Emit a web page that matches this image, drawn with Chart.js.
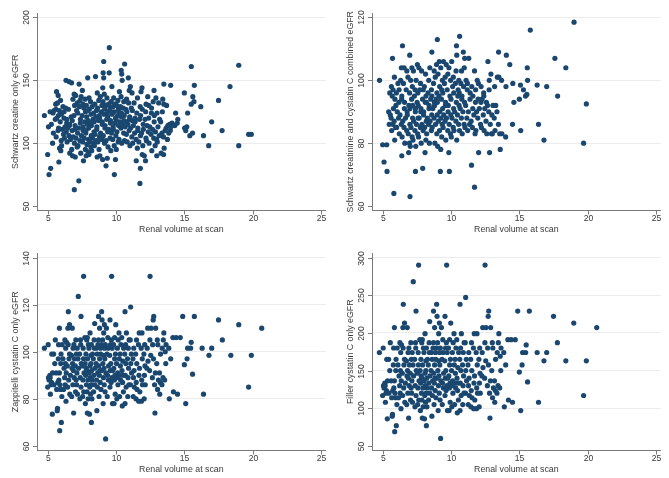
<!DOCTYPE html>
<html>
<head>
<meta charset="utf-8">
<script src="https://cdn.jsdelivr.net/npm/chart.js@4/dist/chart.umd.min.js"></script>
<style>
html,body{margin:0;padding:0;background:#ffffff;overflow:hidden;}
#wrap{position:relative;width:669px;height:478px;background:#ffffff;}
.panel{position:absolute;}
</style>
</head>
<body>
<div id="wrap">
  <div class="panel" style="left:0;top:0;width:335px;height:240px"><canvas id="c1" width="335" height="240"></canvas></div>
  <div class="panel" style="left:335px;top:0;width:334px;height:240px"><canvas id="c2" width="334" height="240"></canvas></div>
  <div class="panel" style="left:0;top:240px;width:335px;height:238px"><canvas id="c3" width="335" height="238"></canvas></div>
  <div class="panel" style="left:335px;top:240px;width:334px;height:238px"><canvas id="c4" width="334" height="238"></canvas></div>
</div>
<script>
// ---------- axis text ----------
const xAxisTitle = "Renal volume at scan";
const volumeTicks = [5, 10, 15, 20, 25];
const creatinineTitle = "Schwartz creatine only eGFR";
const combinedTitle = "Schwartz creatinine and cystatin C combined eGFR";
const zappitelliTitle = "Zappitelli cystatin C only eGFR";
const fillerTitle = "Filler cystatin C only eGFR";
const creatinineTicks = [50, 100, 150, 200];
const combinedTicks = [60, 80, 100, 120];
const zappitelliTicks = [60, 80, 100, 120, 140];
const fillerTicks = [50, 100, 150, 200, 250, 300];

// ---------- data: [renal volume, eGFR] ----------
const creatinineOnly = [
[4.76,122],[5.0,91],[5.06,113],[5.1,75],[5.18,125],[5.22,80],[5.36,100],[5.27,115],[5.39,124],
[5.42,108],[5.56,119],[5.47,126],[5.59,131],
[5.62,105],[5.76,110],[5.67,120],[5.79,122],[5.6,127],[5.72,132],[5.77,138],[5.65,141],
[5.82,85],[5.96,94],[5.87,96],[5.99,102],[5.8,112],[5.92,117],[5.97,124],[5.85,126],[5.94,134],
[6.02,98],[6.16,107],[6.07,111],[6.19,120],[6.0,123],[6.12,129],
[6.22,104],[6.36,109],[6.27,113],[6.39,116],[6.2,125],[6.32,128],[6.34,150],
[6.42,101],[6.56,106],[6.47,112],[6.59,114],[6.4,119],[6.52,127],[6.56,149],
[6.62,92],[6.76,95],[6.67,103],[6.79,110],[6.6,115],[6.72,121],[6.75,148],
[6.95,63],[6.82,90],[6.96,100],[6.87,105],[6.99,111],[6.8,118],[6.92,122],[6.97,130],[6.85,135],[6.94,139],
[7.02,89],[7.16,97],[7.07,104],[7.19,108],[7.0,114],[7.12,126],[7.17,132],[7.05,138],
[7.28,70],[7.22,98],[7.36,102],[7.27,112],[7.39,116],[7.2,124],[7.32,129],[7.37,134],[7.3,147],
[7.42,92],[7.56,101],[7.47,106],[7.59,110],[7.4,119],[7.52,122],[7.57,131],[7.45,137],[7.54,142],
[7.62,86],[7.76,95],[7.67,104],[7.79,108],[7.6,113],[7.72,117],[7.77,125],[7.65,128],[7.74,135],
[7.82,90],[7.96,93],[7.87,99],[7.99,103],[7.8,110],[7.92,115],[7.97,118],[7.85,121],[7.94,126],[7.83,130],[7.93,152],
[8.02,91],[8.16,97],[8.07,101],[8.19,106],[8.0,112],[8.12,116],[8.17,123],[8.05,127],[8.14,133],[8.03,136],
[8.22,94],[8.36,100],[8.27,104],[8.39,109],[8.2,114],[8.32,119],[8.37,124],[8.25,129],
[8.42,98],[8.56,102],[8.47,107],[8.59,111],[8.4,117],[8.52,121],[8.57,126],[8.45,131],[8.5,153],
[8.62,89],[8.76,95],[8.67,101],[8.79,105],[8.6,113],[8.72,118],[8.77,122],[8.65,128],[8.74,134],[8.63,140],
[8.82,90],[8.96,103],[8.87,108],[8.99,115],[8.8,120],[8.92,125],[8.97,130],[8.85,137],
[9.02,87],[9.16,100],[9.07,106],[9.19,112],[9.0,117],[9.12,123],[9.17,127],[9.05,133],[9.14,139],[9.03,144],[9.1,152],[9.06,156],[9.1,165],
[9.27,82],[9.36,88],[9.27,102],[9.39,109],[9.2,114],[9.32,119],[9.37,124],[9.25,130],[9.34,136],
[9.42,97],[9.56,104],[9.47,111],[9.59,116],[9.4,121],[9.52,126],[9.57,128],[9.45,131],[9.5,156],[9.51,176],
[9.62,94],[9.76,103],[9.67,108],[9.79,113],[9.6,118],[9.72,123],[9.77,129],[9.65,133],[9.7,145],
[9.88,75],[9.96,87],[9.87,98],[9.99,106],[9.8,111],[9.92,116],[9.97,120],[9.85,125],[9.94,131],[9.83,136],
[10.02,95],[10.16,101],[10.07,109],[10.19,114],[10.0,119],[10.12,122],[10.17,127],[10.05,130],[10.14,134],
[10.22,103],[10.36,112],[10.27,117],[10.39,121],[10.2,125],[10.32,129],[10.37,137],[10.25,141],
[10.42,100],[10.56,108],[10.47,115],[10.59,118],[10.4,124],[10.52,128],[10.57,133],[10.45,150],[10.42,155],[10.38,158],
[10.62,102],[10.76,107],[10.67,113],[10.79,117],[10.6,122],[10.72,127],[10.77,135],[10.63,163],
[10.82,101],[10.96,110],[10.87,115],[10.99,119],[10.8,125],[10.92,132],[10.97,142],[10.9,152],
[11.02,98],[11.16,105],[11.07,112],[11.19,118],[11.0,121],[11.12,128],[11.17,140],[11.05,145],
[11.22,100],[11.36,108],[11.27,114],[11.39,120],[11.2,126],[11.32,132],
[11.48,86],[11.56,96],[11.47,103],[11.59,110],[11.4,117],[11.52,124],[11.57,136],
[11.75,68],[11.78,80],[11.67,101],[11.79,106],[11.6,112],[11.72,119],[11.77,129],
[11.92,91],[11.96,98],[11.87,108],[11.99,115],[11.8,122],[11.92,127],[11.83,141],[11.9,144],
[12.16,86],[12.07,90],[12.19,104],[12.0,111],[12.12,119],[12.17,125],
[12.22,102],[12.36,109],[12.27,114],[12.39,120],[12.2,131],[12.32,137],
[12.42,100],[12.56,107],[12.47,113],[12.59,124],[12.4,130],
[12.62,94],[12.76,104],[12.67,111],[12.79,117],[12.6,128],[12.72,133],[12.78,142],
[12.98,90],[12.86,98],[12.97,103],[12.88,109],[12.8,122],[12.92,136],
[13.02,101],[13.16,106],[13.07,113],[13.19,119],[13.0,124],[13.12,132],
[13.3,92],[13.36,108],[13.27,117],[13.39,125],
[13.48,91],[13.52,96],[13.47,105],[13.59,110],[13.5,131],[13.42,135],[13.5,147],
[13.76,103],[13.67,112],[13.79,114],[13.7,130],
[13.86,108],[13.97,110],[13.92,115],[14.02,113],[14.1,116],[14.0,146],
[14.3,114],[14.36,124],[14.48,116],[14.52,119],
[15.0,140],[15.02,112],[15.1,110],[15.18,113],[15.24,124],[15.4,106],[15.5,131],[15.51,161],[15.6,108],[15.62,137],[15.7,133],[15.73,146],
[16.2,129],[16.4,106],[16.78,98],[17.0,117],[17.5,134],[17.76,110],[18.34,145],[18.98,98],[18.98,162],[19.7,107],[19.9,107]
];

const combinedEGFR = [
[4.77,100],[5.0,79.5],[5.1,74],[5.32,71],[5.3,79.5],[5.82,64],[7.0,63],[7.4,71],[6.4,76],
[5.48,86],[5.56,89],[5.44,90],[5.52,96],
[5.66,84],[5.74,86],[5.62,88],[5.79,91],[5.7,95],[5.76,97],[5.64,98],[5.72,107],
[5.88,81],[5.95,85],[5.84,87],[5.97,92],[5.9,94],[5.86,101],
[6.02,85],[6.16,88],[6.07,90],[6.19,93],[6.0,96],[6.12,99],
[6.22,83],[6.36,86],[6.27,89],[6.39,94],[6.2,97],[6.32,100],[6.37,104],
[6.42,82],[6.56,85],[6.47,87],[6.59,91],[6.4,95],[6.52,99],[6.57,104],[6.45,111],
[6.62,80],[6.76,84],[6.67,88],[6.79,90],[6.6,93],[6.72,97],[6.77,103],
[6.9,77],[6.96,80],[6.87,83],[6.99,86],[6.8,89],[6.92,92],[6.97,96],[6.85,101],[6.98,108],
[7.02,79],[7.16,82],[7.07,85],[7.19,88],[7.0,91],[7.12,94],[7.17,98],[7.05,100],[7.14,104],
[7.22,81],[7.36,84],[7.27,87],[7.39,90],[7.2,92],[7.32,95],[7.37,97],[7.25,103],
[7.42,79],[7.56,83],[7.47,86],[7.59,88],[7.4,91],[7.52,93],[7.57,96],[7.45,100],[7.54,105],
[7.62,82],[7.76,85],[7.67,88],[7.79,90],[7.6,92],[7.72,97],[7.77,99],[7.65,104],
[7.93,72],[7.82,80],[7.96,84],[7.87,86],[7.99,89],[7.8,91],[7.92,94],[7.97,97],[7.85,103],
[8.1,77],[8.16,81],[8.07,85],[8.19,87],[8.0,90],[8.12,93],[8.17,95],[8.05,98],[8.14,102],
[8.22,83],[8.36,86],[8.27,88],[8.39,91],[8.2,93],[8.32,96],[8.37,100],
[8.42,80],[8.56,84],[8.47,87],[8.59,89],[8.4,92],[8.52,94],[8.57,97],[8.45,104],[8.6,109],
[8.62,85],[8.76,88],[8.67,91],[8.79,93],[8.6,95],[8.72,99],[8.77,103],
[8.82,80],[8.96,83],[8.87,86],[8.99,89],[8.8,92],[8.92,94],[8.97,96],[8.85,101],[8.94,105],[9.0,113],
[9.02,79],[9.16,84],[9.07,87],[9.19,90],[9.0,93],[9.12,95],[9.17,98],[9.05,102],[9.14,106],
[9.22,71],[9.25,78],
[9.32,82],[9.36,86],[9.27,88],[9.39,91],[9.3,94],[9.32,97],[9.37,100],[9.25,104],
[9.42,85],[9.56,87],[9.47,89],[9.59,92],[9.4,96],[9.52,99],[9.57,101],[9.45,106],
[9.62,81],[9.76,84],[9.67,88],[9.79,90],[9.6,93],[9.72,97],[9.77,102],[9.65,105],
[9.88,71],[9.84,77],[9.96,83],[9.87,86],[9.99,89],[9.8,92],[9.92,95],[9.97,100],[9.85,104],
[10.02,82],[10.16,85],[10.07,88],[10.19,91],[10.0,94],[10.12,98],[10.17,101],[10.05,106],
[10.22,84],[10.36,87],[10.27,90],[10.39,93],[10.2,96],[10.32,99],[10.37,103],[10.4,111],[10.42,108],
[10.42,81],[10.56,86],[10.47,89],[10.59,92],[10.5,95],[10.52,97],[10.57,100],[10.63,114],
[10.62,84],[10.76,88],[10.67,91],[10.79,94],[10.6,96],[10.72,99],[10.77,103],
[10.82,83],[10.96,86],[10.87,90],[10.99,93],[10.8,95],[10.92,98],[10.97,104],[10.9,109],
[11.02,85],[11.16,88],[11.07,92],[11.19,97],[11.1,100],[11.0,107],
[11.22,84],[11.36,86],[11.27,90],[11.39,94],[11.2,99],[11.3,107],
[11.5,73],[11.56,85],[11.47,87],[11.59,91],[11.4,96],[11.52,98],
[11.72,66],[11.76,83],[11.67,89],[11.79,93],[11.6,95],[11.72,103],
[11.82,84],[11.96,88],[11.87,90],[11.99,94],[11.8,97],[11.92,100],
[12.02,77],[12.16,86],[12.07,91],[12.19,93],[12.0,99],
[12.22,85],[12.36,89],[12.27,94],[12.39,96],[12.2,98],
[12.42,84],[12.56,87],[12.47,91],[12.59,93],[12.4,95],
[12.62,83],[12.76,90],[12.67,92],[12.79,97],[12.7,106],
[12.82,77],[12.96,83],[12.87,86],[12.99,89],[12.8,100],[12.92,102],
[13.02,83],[13.16,88],[13.07,92],[13.19,98],
[13.22,84],[13.36,90],[13.27,92],[13.39,101],
[13.6,78],[13.56,83],[13.47,86],[13.5,101],[13.48,109],
[13.72,83],[13.7,100],
[14.0,82],[14.02,98],[14.05,108],[14.3,105],[14.5,86],[14.52,99],[14.6,93],
[15.0,94],[15.08,98.5],[15.1,84],[15.3,97],[15.45,95],[15.55,95.5],[15.6,100],[15.58,104],[15.8,116],
[16.3,98.5],[16.4,86],[16.8,81],[17.0,98],[17.6,107],[17.8,95],[18.4,104],[19.0,118.5],[19.7,80],[19.9,92.5]
];

const zappitelliCysC = [
[4.76,101.5],[5.0,85],[5.06,89],[5.04,103],[5.1,88],[5.16,90],[5.2,82],[5.24,86],[5.18,89],
[5.34,73.5],[5.28,87],[5.36,91],[5.3,99],[5.46,86],[5.52,95],[5.44,99],[5.56,105],
[5.7,75],[5.72,76],[5.66,84],[5.74,87],[5.62,91],[5.78,97],[5.82,88],[5.86,91],[5.8,103],
[5.88,66.5],[5.94,84],[5.9,86],[5.96,95],[5.86,110],[6.0,70],[6.04,81],[5.98,99],[6.06,103],
[6.16,84],[6.24,89],[6.2,93],[6.12,97],[6.26,105],
[6.34,79],[6.28,86],[6.36,91],[6.3,95],[6.32,101.5],[6.38,104],
[6.46,85],[6.54,88],[6.44,94],[6.56,97],[6.5,103],[6.48,110],[6.51,117],
[6.62,82],[6.66,90],[6.6,99],[6.6,111.5],
[6.76,81],[6.84,86],[6.78,93],[6.82,95],[6.74,98.5],[6.8,110],
[6.9,74],[6.94,89],[6.88,92],[6.96,97],[6.86,101.5],[6.92,103],
[7.04,83],[7.12,86],[7.08,88],[7.14,91],[7.02,94],[7.1,99],[7.06,105],
[7.18,82],[7.26,93],[7.22,97],[7.16,101.5],[7.24,123.5],
[7.36,80],[7.44,85],[7.38,89],[7.46,95],[7.34,99],[7.42,103],[7.4,105],[7.44,115],
[7.56,81],[7.64,83],[7.58,88],[7.66,91],[7.54,94],[7.62,97],[7.6,101.5],[7.63,132],
[7.76,78],[7.84,86],[7.78,90],[7.82,93],[7.74,95],[7.8,99],[7.86,105],[7.72,106],
[7.9,74],[7.96,80],[7.88,83],[7.94,88],[7.86,92],[7.92,97],[7.98,103],[7.9,106],
[8.06,73.5],[8.14,82],[8.08,85],[8.12,89],[8.04,91],[8.1,94],[8.16,98.5],[8.02,101.5],[8.1,108],
[8.2,70],[8.24,80],[8.18,86],[8.26,88],[8.22,92],[8.16,95],[8.28,99],[8.2,103],
[8.36,83],[8.44,86],[8.38,90],[8.46,93],[8.34,97],[8.42,101.5],[8.4,105],[8.44,112],
[8.6,75],[8.64,85],[8.58,88],[8.66,91],[8.54,95],[8.62,99],[8.56,101.5],[8.68,103],[8.72,115],
[8.76,81],[8.84,87],[8.78,90],[8.82,92],[8.74,94],[8.8,97],[8.86,101.5],[8.72,105],[8.8,110],
[8.9,84],[8.96,92],[8.88,99],[8.94,103],[8.98,113.5],[8.95,117],
[9.06,78],[9.14,86],[9.08,89],[9.12,93],[9.04,95],[9.1,98.5],[9.16,101.5],[9.02,105],[9.1,108],[9.15,111.5],
[9.24,63],[9.2,83],[9.26,91],[9.18,97],[9.22,103],
[9.36,81],[9.44,88],[9.38,90],[9.46,94],[9.34,99],[9.42,101.5],[9.4,106],[9.3,110],
[9.56,85],[9.64,87],[9.58,92],[9.62,95],[9.54,98.5],[9.6,103],[9.66,105],[9.56,113.5],
[9.74,78],[9.7,89],[9.76,92],[9.72,101.5],[9.68,132],
[9.86,78],[9.94,82],[9.88,88],[9.92,90],[9.84,93],[9.9,97],[9.96,99],[9.82,103],[9.9,106],[9.98,111.5],
[10.06,80],[10.14,86],[10.08,89],[10.12,91],[10.04,95],[10.1,101.5],[10.16,105],
[10.26,81],[10.34,88],[10.28,90],[10.32,94],[10.24,97],[10.3,99],[10.36,103],[10.22,108],
[10.46,77],[10.54,83],[10.48,87],[10.52,90],[10.44,92],[10.5,96],[10.56,101.5],[10.42,106],
[10.66,78],[10.74,85],[10.68,90],[10.72,95],[10.64,99],[10.7,103],[10.76,108],[10.66,117],
[10.86,81],[10.94,86],[10.88,89],[10.92,93],[10.84,97],[10.9,101.5],[10.96,105],
[11.06,86],[11.14,91],[11.08,95],[11.12,99],[11.04,105],[11.07,119],
[11.26,81],[11.34,85],[11.28,89],[11.32,92],[11.24,97],[11.3,101.5],
[11.46,80],[11.54,84],[11.48,87],[11.52,95],[11.44,99],[11.5,105],
[11.66,79],[11.74,83],[11.68,90],[11.72,93],[11.64,103],[11.7,108],
[11.86,79],[11.94,86],[11.88,88],[11.92,97],[11.84,101.5],[11.9,108],
[12.06,80],[12.14,86],[12.08,90],[12.12,94],[12.04,99],[12.1,103],
[12.26,93],[12.34,96],[12.28,101.5],[12.32,110],
[12.46,92],[12.54,98.5],[12.48,105],[12.56,110],[12.49,132],
[12.66,89],[12.74,97],[12.68,103],[12.72,113.5],[12.76,115],
[12.85,74],[12.82,86],[12.88,91],[12.9,110],
[13.04,84],[13.1,88],[12.98,95],[13.06,103],[13.02,105],
[13.2,82],[13.24,87],[13.18,91],[13.26,99],
[13.36,86],[13.44,89],[13.38,101.5],[13.46,105],[13.5,108],
[13.56,88],[13.64,95],[13.6,100],[13.66,103],
[13.9,80],[14.0,97],[13.86,101.5],[14.2,83],[14.16,106],[14.5,82],[14.4,106],[14.7,106],
[15.0,94.5],[14.88,115],[15.1,78],[15.2,97],[15.24,101.5],[15.46,101.5],[15.5,104],[15.6,90.5],[15.73,115],
[16.3,101.5],[16.4,82],[16.8,98.5],[17.0,101.5],[17.5,113.5],[17.78,105],[18.4,98.5],[18.98,111.5],[19.7,85],[19.9,98.5],[20.66,110]
];

const fillerCysC = [
[4.76,174],[5.0,117],[5.06,130],[5.04,180],[5.1,127],[5.16,133.5],[5.2,108],[5.24,120],[5.18,130],
[5.34,86],[5.28,123.5],[5.36,136.5],[5.3,165],[5.46,120],[5.52,150],[5.44,165],[5.56,187],
[5.7,89.5],[5.72,92],[5.66,114],[5.74,123.5],[5.62,136.5],[5.78,157.5],[5.82,127],[5.86,136.5],[5.8,180],
[5.88,69],[5.94,114],[5.9,120],[5.96,150],[5.86,207],[6.0,77],[6.04,105],[5.98,165],[6.06,180],
[6.16,114],[6.24,130],[6.2,143],[6.12,157.5],[6.26,187],
[6.34,99.5],[6.28,120],[6.36,136.5],[6.3,150],[6.32,174],[6.38,184],
[6.46,117],[6.54,127],[6.44,146.5],[6.56,157.5],[6.5,180],[6.48,207],[6.51,238],
[6.62,108],[6.66,133.5],[6.6,165],[6.6,213],
[6.76,105],[6.84,120],[6.78,143],[6.82,150],[6.74,163],[6.8,207],
[6.9,87],[6.94,130],[6.88,140],[6.96,157.5],[6.86,174],[6.92,180],
[7.04,111],[7.12,120],[7.08,127],[7.14,136.5],[7.02,146.5],[7.1,165],[7.06,187],
[7.18,108],[7.26,143],[7.22,157.5],[7.16,174],[7.24,268],
[7.36,102],[7.44,117],[7.38,130],[7.46,150],[7.34,165],[7.42,180],[7.4,187],[7.44,229],
[7.56,105],[7.64,111],[7.58,127],[7.66,136.5],[7.54,146.5],[7.62,157.5],[7.6,174],[7.63,290],
[7.76,97],[7.84,120],[7.78,133.5],[7.82,143],[7.74,150],[7.8,165],[7.86,187],[7.72,191],
[7.9,87],[7.96,102],[7.88,111],[7.94,127],[7.86,140],[7.92,157.5],[7.98,180],[7.9,191],
[8.06,86],[8.14,108],[8.08,117],[8.12,130],[8.04,136.5],[8.1,146.5],[8.16,163],[8.02,174],[8.1,199],
[8.2,77],[8.24,102],[8.18,120],[8.26,127],[8.22,140],[8.16,150],[8.28,165],[8.2,180],
[8.36,111],[8.44,120],[8.38,133.5],[8.46,143],[8.34,157.5],[8.42,174],[8.4,187],[8.44,215],
[8.6,89.5],[8.64,117],[8.58,127],[8.66,136.5],[8.54,150],[8.62,165],[8.56,174],[8.68,180],[8.72,229],
[8.76,105],[8.84,123.5],[8.78,133.5],[8.82,140],[8.74,146.5],[8.8,157.5],[8.86,174],[8.72,187],[8.8,207],
[8.9,114],[8.96,140],[8.88,165],[8.94,180],[8.98,222],[8.95,238],
[9.06,97],[9.14,120],[9.08,130],[9.12,143],[9.04,150],[9.1,163],[9.16,174],[9.02,187],[9.1,199],[9.15,213],
[9.24,60],[9.2,111],[9.26,136.5],[9.18,157.5],[9.22,180],
[9.36,105],[9.44,127],[9.38,133.5],[9.46,146.5],[9.34,165],[9.42,174],[9.4,191],[9.3,207],
[9.56,117],[9.64,123.5],[9.58,140],[9.62,150],[9.54,163],[9.6,180],[9.66,187],[9.56,222],
[9.74,97],[9.7,130],[9.76,140],[9.72,174],[9.68,290],
[9.86,97],[9.94,108],[9.88,127],[9.92,133.5],[9.84,143],[9.9,157.5],[9.96,165],[9.82,180],[9.9,191],[9.98,213],
[10.06,102],[10.14,120],[10.08,130],[10.12,136.5],[10.04,150],[10.1,174],[10.16,187],
[10.26,105],[10.34,127],[10.28,133.5],[10.32,146.5],[10.24,157.5],[10.3,165],[10.36,180],[10.22,199],
[10.46,94],[10.54,111],[10.48,123.5],[10.52,133.5],[10.44,140],[10.5,154],[10.56,174],[10.42,191],
[10.66,97],[10.74,117],[10.68,133.5],[10.72,150],[10.64,165],[10.7,180],[10.76,199],[10.66,238],
[10.86,105],[10.94,120],[10.88,130],[10.92,143],[10.84,157.5],[10.9,174],[10.96,187],
[11.06,120],[11.14,136.5],[11.08,150],[11.12,165],[11.04,187],[11.07,247],
[11.26,105],[11.34,117],[11.28,130],[11.32,140],[11.24,157.5],[11.3,174],
[11.46,102],[11.54,114],[11.48,123.5],[11.52,150],[11.44,165],[11.5,187],
[11.66,99.5],[11.74,111],[11.68,133.5],[11.72,143],[11.64,180],[11.7,199],
[11.86,99.5],[11.94,120],[11.88,127],[11.92,157.5],[11.84,174],[11.9,199],
[12.06,102],[12.14,120],[12.08,133.5],[12.12,146.5],[12.04,165],[12.1,180],
[12.26,143],[12.34,154],[12.28,174],[12.32,207],
[12.46,140],[12.54,163],[12.48,187],[12.56,207],[12.49,290],
[12.66,130],[12.74,157.5],[12.68,180],[12.72,222],[12.76,229],
[12.85,87],[12.82,120],[12.88,136.5],[12.9,207],
[13.04,114],[13.1,127],[12.98,150],[13.06,180],[13.02,187],
[13.2,108],[13.24,123.5],[13.18,136.5],[13.26,165],
[13.36,120],[13.44,130],[13.38,174],[13.46,187],[13.5,199],
[13.56,127],[13.64,150],[13.6,169],[13.66,180],
[13.9,102],[14.0,157.5],[13.86,174],[14.2,111],[14.16,191],[14.5,108],[14.4,191],[14.7,191],
[15.0,148],[14.88,229],[15.1,97],[15.2,157.5],[15.24,174],[15.46,174],[15.5,184],[15.6,135],[15.73,229],
[16.3,174],[16.4,108],[16.8,163],[17.0,174],[17.5,222],[17.78,187],[18.4,163],[18.98,213],[19.7,117],[19.9,163],[20.66,207]
];

// ---------- styling ----------
const DOT = '#1a476f';
const AXIS = '#7a7a7a';
const GRID = '#ececec';
const TEXT = '#3a3a3a';
const FONT = '"Liberation Sans", Arial, Helvetica, sans-serif';

const stataAxes = {
  id: 'stataAxes',
  afterDraw(chart, args, o) {
    const { ctx, chartArea: a, scales: { x, y } } = chart;
    ctx.save();
    ctx.strokeStyle = AXIS;
    ctx.lineWidth = 1;
    ctx.fillStyle = TEXT;
    ctx.font = '8.6px ' + FONT;
    ctx.textAlign = 'center';
    ctx.textBaseline = 'middle';
    o.xTicks.forEach(v => {
      const px = Math.round(x.getPixelForValue(v)) + 0.5;
      ctx.beginPath(); ctx.moveTo(px, a.bottom); ctx.lineTo(px, a.bottom + 4); ctx.stroke();
      ctx.fillText(String(v), px, a.bottom + 8.5);
    });
    o.yTicks.forEach(v => {
      const py = Math.round(y.getPixelForValue(v)) + 0.5;
      ctx.beginPath(); ctx.moveTo(a.left - 4, py); ctx.lineTo(a.left, py); ctx.stroke();
      ctx.save();
      ctx.translate(a.left - 10, py);
      ctx.rotate(-Math.PI / 2);
      ctx.fillText(String(v), 0, 0);
      ctx.restore();
    });
    ctx.font = '8.8px ' + FONT;
    ctx.fillText(o.xTitle, (a.left + a.right) / 2, a.bottom + 19);
    ctx.save();
    ctx.translate(a.left - 21, (a.top + a.bottom) / 2);
    ctx.rotate(-Math.PI / 2);
    ctx.fillText(o.yTitle, 0, 0);
    ctx.restore();
    ctx.restore();
  }
};

function makePanel(id, pts, yTicks, yMin, yMax, yTitle, padRight, padBottom) {
  const lowest = Math.min(...yTicks);
  new Chart(document.getElementById(id), {
    type: 'scatter',
    data: {
      datasets: [{
        data: pts.map(([x, y]) => ({ x, y })),
        backgroundColor: DOT,
        borderWidth: 0,
        pointRadius: 2.6,
        pointHoverRadius: 2.6
      }]
    },
    options: {
      responsive: false,
      animation: false,
      devicePixelRatio: 1,
      events: [],
      layout: { padding: { left: 37, top: 13, right: padRight, bottom: padBottom } },
      plugins: {
        legend: { display: false },
        tooltip: { enabled: false },
        stataAxes: { xTicks: volumeTicks, yTicks: yTicks, xTitle: xAxisTitle, yTitle: yTitle }
      },
      scales: {
        x: {
          type: 'linear', min: 4.22, max: 25.34,
          afterBuildTicks: s => { s.ticks = volumeTicks.map(v => ({ value: v })); },
          ticks: { display: false },
          grid: { display: false, drawTicks: false },
          border: { display: true, color: AXIS, width: 1 }
        },
        y: {
          type: 'linear', min: yMin, max: yMax,
          afterBuildTicks: s => { s.ticks = yTicks.map(v => ({ value: v })); },
          ticks: { display: false },
          grid: { display: true, drawTicks: false, lineWidth: 1,
                  color: c => (c.tick && c.tick.value === lowest) ? 'rgba(0,0,0,0)' : GRID },
          border: { display: true, color: AXIS, width: 1 }
        }
      }
    },
    plugins: [stataAxes]
  });
}

makePanel('c1', creatinineOnly, creatinineTicks, 46.42, 203.58, creatinineTitle, 9.3, 29.5);
makePanel('c2', combinedEGFR, combinedTicks, 58.57, 121.43, combinedTitle, 8.3, 29.5);
makePanel('c3', zappitelliCysC, zappitelliTicks, 58.09, 141.91, zappitelliTitle, 9.3, 27.5);
makePanel('c4', fillerCysC, fillerTicks, 44.03, 305.97, fillerTitle, 8.3, 27.5);
</script>
</body>
</html>
